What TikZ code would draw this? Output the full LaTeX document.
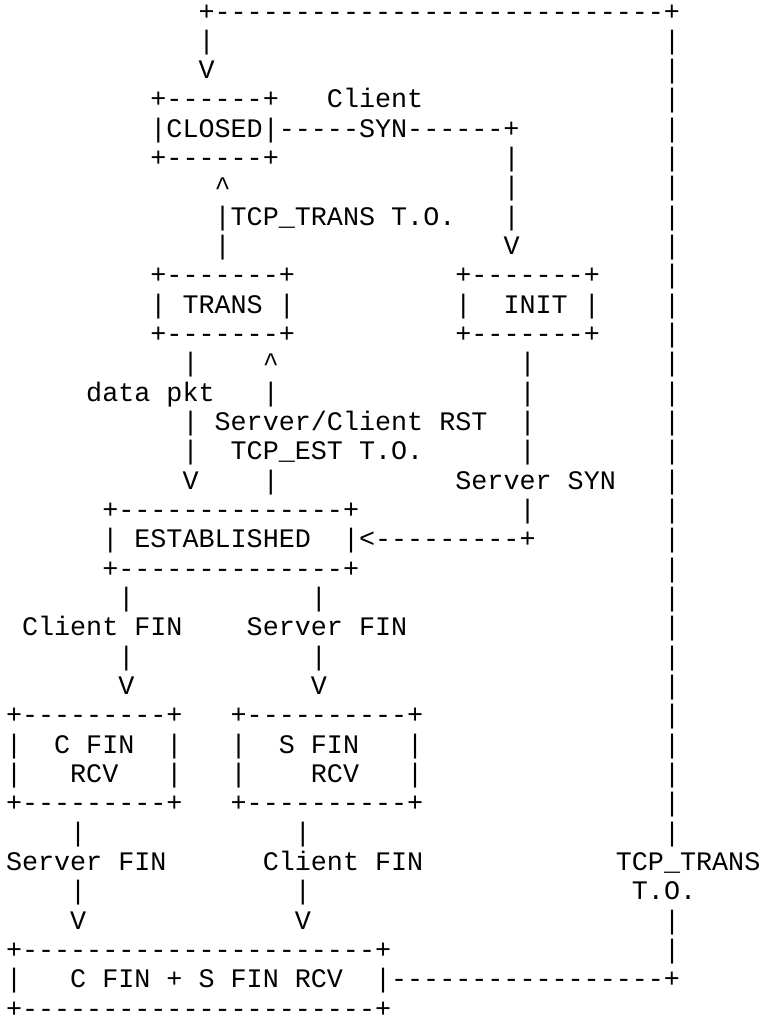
\documentclass[tikz,border=0pt]{standalone}
\usepackage{fontspec}
\setmonofont{Liberation Mono}
\newlength\cw
\setlength\cw{16.05pt}
\ExplSyntaxOn
\cs_new:Npn \dsh #1 { \prg_replicate:nn {#1} {-} }
\ExplSyntaxOff
\newcommand\asciifont{\ttfamily\fontsize{26.7456pt}{29pt}\selectfont}
\tikzset{ascii/.style={anchor=base west, inner sep=0pt, outer sep=0pt, text depth=0pt, font=\asciifont, text=black}}
\newcommand\arow[2]{\node[ascii] (row#1) at (6,{-20-29.33*#1}) {#2};}
\begin{document}
\begin{tikzpicture}[x=1pt,y=1pt]
\useasboundingbox (0,0) rectangle (760,-1018);
\arow{0}{\kern12\cw+\dsh{28}+}
\arow{1}{\kern12\cw|\kern28\cw|}
\arow{2}{\kern12\cw V\kern28\cw|}
\arow{3}{\kern9\cw+\dsh{6}+\kern3\cw Client\kern15\cw|}
\arow{4}{\kern9\cw|CLOSED|\dsh{5}SYN\dsh{6}+\kern9\cw|}
\arow{5}{\kern9\cw+\dsh{6}+\kern14\cw|\kern9\cw|}
\arow{6}{\kern13\cw\textasciicircum\kern17\cw|\kern9\cw|}
\arow{7}{\kern13\cw|TCP\_TRANS T.O.\kern3\cw|\kern9\cw|}
\arow{8}{\kern13\cw|\kern17\cw V\kern9\cw|}
\arow{9}{\kern9\cw+\dsh{7}+\kern10\cw+\dsh{7}+\kern4\cw|}
\arow{10}{\kern9\cw|\kern1\cw TRANS\kern1\cw|\kern10\cw|\kern2\cw INIT\kern1\cw|\kern4\cw|}
\arow{11}{\kern9\cw+\dsh{7}+\kern10\cw+\dsh{7}+\kern4\cw|}
\arow{12}{\kern11\cw|\kern4\cw\textasciicircum\kern15\cw|\kern8\cw|}
\arow{13}{\kern5\cw data pkt\kern3\cw|\kern15\cw|\kern8\cw|}
\arow{14}{\kern11\cw|\kern1\cw Server/Client RST\kern2\cw|\kern8\cw|}
\arow{15}{\kern11\cw|\kern2\cw TCP\_EST T.O.\kern6\cw|\kern8\cw|}
\arow{16}{\kern11\cw V\kern4\cw|\kern11\cw Server SYN\kern3\cw|}
\arow{17}{\kern6\cw+\dsh{14}+\kern10\cw|\kern8\cw|}
\arow{18}{\kern6\cw|\kern1\cw ESTABLISHED\kern2\cw|<\dsh{9}+\kern8\cw|}
\arow{19}{\kern6\cw+\dsh{14}+\kern19\cw|}
\arow{20}{\kern7\cw|\kern11\cw|\kern21\cw|}
\arow{21}{\kern1\cw Client FIN\kern4\cw Server FIN\kern16\cw|}
\arow{22}{\kern7\cw|\kern11\cw|\kern21\cw|}
\arow{23}{\kern7\cw V\kern11\cw V\kern21\cw|}
\arow{24}{+\dsh{9}+\kern3\cw+\dsh{10}+\kern15\cw|}
\arow{25}{|\kern2\cw C FIN\kern2\cw|\kern3\cw|\kern2\cw S FIN\kern3\cw|\kern15\cw|}
\arow{26}{|\kern3\cw RCV\kern3\cw|\kern3\cw|\kern4\cw RCV\kern3\cw|\kern15\cw|}
\arow{27}{+\dsh{9}+\kern3\cw+\dsh{10}+\kern15\cw|}
\arow{28}{\kern4\cw|\kern13\cw|\kern22\cw|}
\arow{29}{Server FIN\kern6\cw Client FIN\kern12\cw TCP\_TRANS}
\arow{30}{\kern4\cw|\kern13\cw|\kern20\cw T.O.}
\arow{31}{\kern4\cw V\kern13\cw V\kern22\cw|}
\arow{32}{+\dsh{22}+\kern17\cw|}
\arow{33}{|\kern3\cw C FIN + S FIN RCV\kern2\cw|\dsh{17}+}
\arow{34}{+\dsh{22}+}
\end{tikzpicture}
\end{document}
